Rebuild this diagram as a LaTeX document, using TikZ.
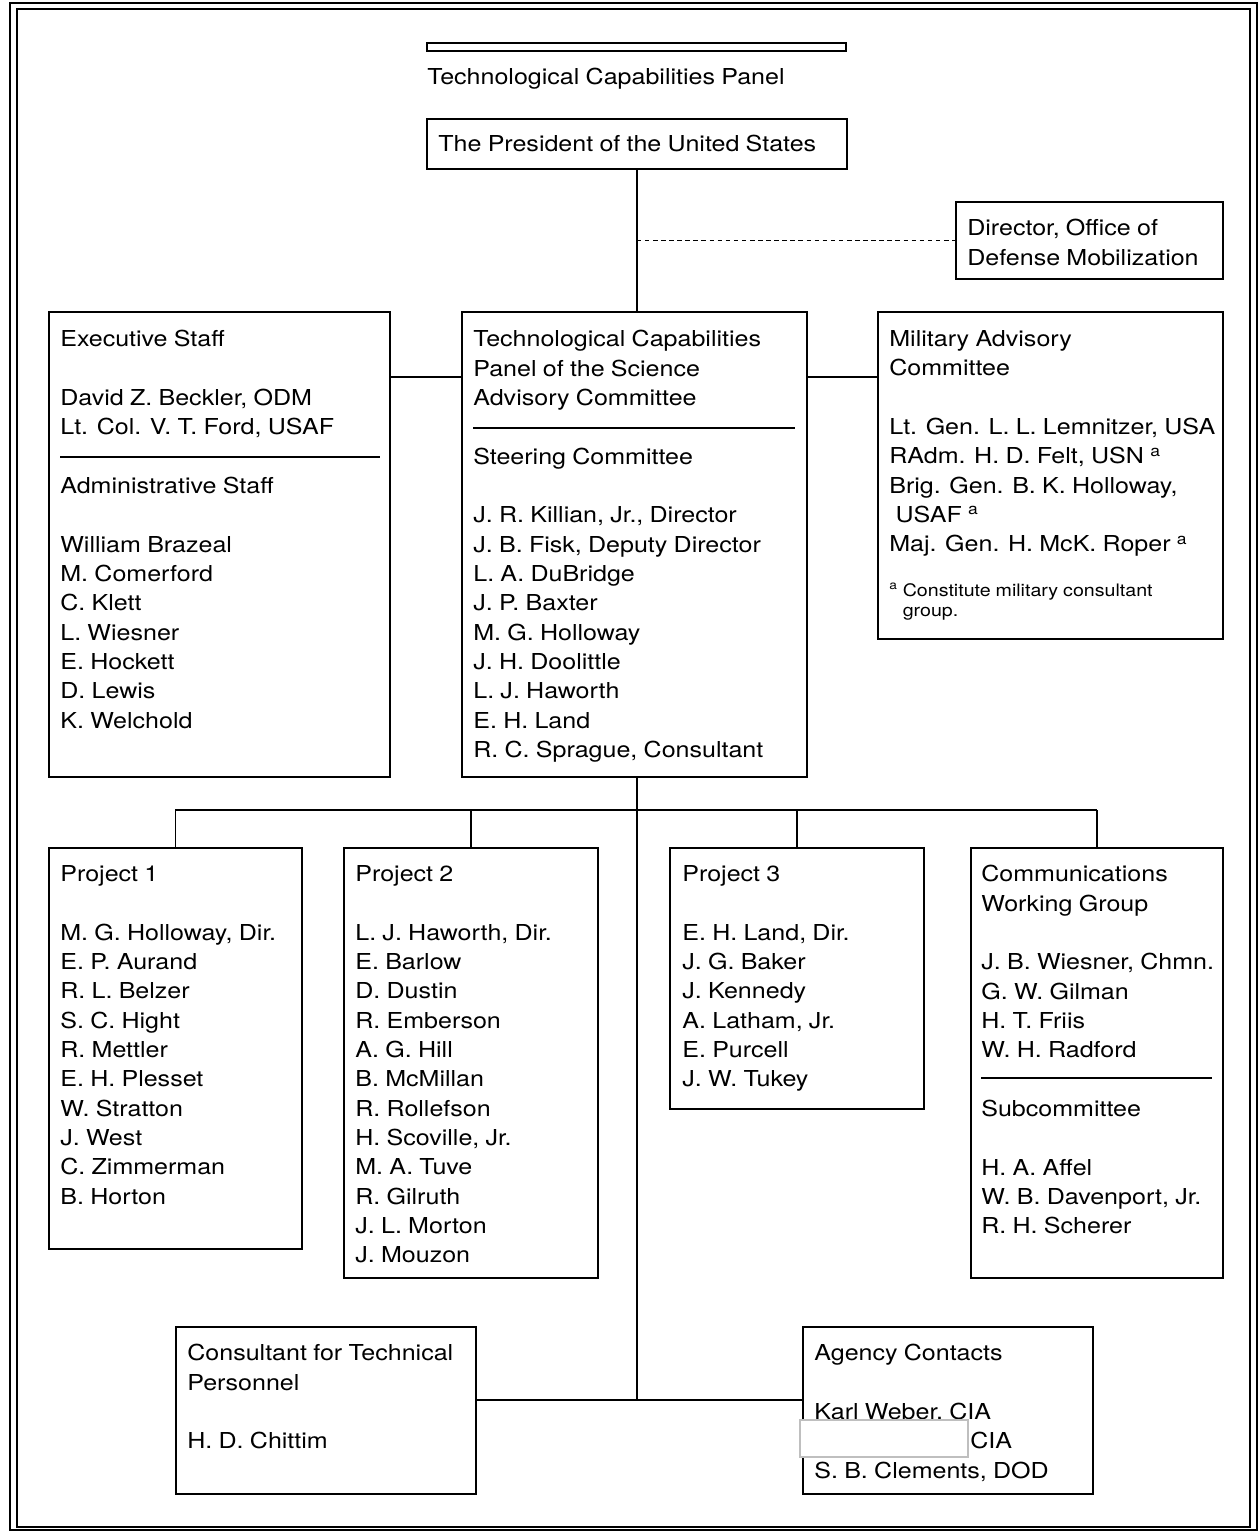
\documentclass[tikz,border=0pt]{standalone}
\usepackage{fontspec}
\setmainfont{TeX Gyre Heros}[FakeStretch=1.14, WordSpace=0.9]
\usepackage{tikz}

\tikzset{
  box/.style={draw, line width=1pt, anchor=north west, inner sep=0pt},
  txt/.style={anchor=north west, inner sep=0pt, align=left, font=\fontsize{12.5}{16.7}\selectfont},
  note/.style={anchor=north west, inner sep=0pt, align=left, font=\fontsize{9.8}{11.8}\selectfont},
  link/.style={line width=0.8pt},
}

\begin{document}
\begin{tikzpicture}[x=0.02cm, y=-0.02cm]
        \useasboundingbox (0,0) rectangle (1260,1532);

        % Frame
        \draw[line width=0.6pt] (10,3) rectangle (1257,1530);
        \draw[line width=0.8pt] (17,9) rectangle (1250,1527);

        % Heading
        \draw[line width=0.6pt] (427,43) rectangle (846,51);
        \node[txt] (title) at (427,68) {Technological Capabilities Panel};

        % President
        \node[box, minimum width=8.4cm, minimum height=1cm] (pres) at (426,118) {};
        \node[txt] (pres-txt) at (438,135) {The President of the United States};

        % ODM director
        \node[box, minimum width=5.34cm, minimum height=1.54cm] (dir) at (955,201) {};
        \node[txt] (dir-txt) at (967,219) {Director, Office of\\ Defense Mobilization};

        % Executive staff
        \node[box, minimum width=6.82cm, minimum height=9.3cm] (exec) at (48,311) {};
        \node[txt] (exec-txt) at (60,330) {Executive Staff\\[16.7pt]
          David Z. Beckler, ODM\\ Lt. Col. V. T. Ford, USAF\\[16.7pt]
          Administrative Staff\\[16.7pt]
          William Brazeal\\ M. Comerford\\ C. Klett\\ L. Wiesner\\ E. Hockett\\ D. Lewis\\ K. Welchold};
        \draw[link] (60,457) -- (380,457);

        % Panel / steering committee
        \node[box, minimum width=6.9cm, minimum height=9.3cm] (main) at (461,311) {};
        \node[txt] (main-txt) at (473,330) {Technological Capabilities\\ Panel of the Science\\ Advisory Committee\\[16.7pt]
          Steering Committee\\[16.7pt]
          J. R. Killian, Jr., Director\\ J. B. Fisk, Deputy Director\\ L. A. DuBridge\\ J. P. Baxter\\
          M. G. Holloway\\ J. H. Doolittle\\ L. J. Haworth\\ E. H. Land\\ R. C. Sprague, Consultant};
        \draw[link] (473,428) -- (795,428);

        % Military advisory committee
        \node[box, minimum width=6.9cm, minimum height=6.54cm] (mil) at (877,311) {};
        \node[txt] (mil-txt) at (889,330) {Military Advisory\\ Committee\\[16.7pt]
          Lt. Gen. L. L. Lemnitzer, USA\\ RAdm. H. D. Felt, USN \textsuperscript{a}\\
          Brig. Gen. B. K. Holloway,\\ \ USAF \textsuperscript{a}\\ Maj. Gen. H. McK. Roper \textsuperscript{a}};
        \node[note] (mil-note) at (889,583) {\textsuperscript{a} Constitute military consultant\\
          \phantom{\textsuperscript{a} }group.};

        % Projects
        \node[box, minimum width=5.06cm, minimum height=8.02cm] (p1) at (48,847) {};
        \node[txt] (p1-txt) at (60,865) {Project 1\\[16.7pt]
          M. G. Holloway, Dir.\\ E. P. Aurand\\ R. L. Belzer\\ S. C. Hight\\ R. Mettler\\
          E. H. Plesset\\ W. Stratton\\ J. West\\ C. Zimmerman\\ B. Horton};

        \node[box, minimum width=5.08cm, minimum height=8.6cm] (p2) at (343,847) {};
        \node[txt] (p2-txt) at (355,865) {Project 2\\[16.7pt]
          L. J. Haworth, Dir.\\ E. Barlow\\ D. Dustin\\ R. Emberson\\ A. G. Hill\\ B. McMillan\\
          R. Rollefson\\ H. Scoville, Jr.\\ M. A. Tuve\\ R. Gilruth\\ J. L. Morton\\ J. Mouzon};

        \node[box, minimum width=5.08cm, minimum height=5.22cm] (p3) at (669,847) {};
        \node[txt] (p3-txt) at (682,865) {Project 3\\[16.7pt]
          E. H. Land, Dir.\\ J. G. Baker\\ J. Kennedy\\ A. Latham, Jr.\\ E. Purcell\\ J. W. Tukey};

        \node[box, minimum width=5.04cm, minimum height=8.6cm] (comms) at (970,847) {};
        \node[txt] (comms-txt) at (981,865) {Communications\\ Working Group\\[16.7pt]
          J. B. Wiesner, Chmn.\\ G. W. Gilman\\ H. T. Friis\\ W. H. Radford\\[16.7pt]
          Subcommittee\\[16.7pt]
          H. A. Affel\\ W. B. Davenport, Jr.\\ R. H. Scherer};
        \draw[link] (981,1078) -- (1212,1078);

        % Consultant and agency contacts
        \node[box, minimum width=6cm, minimum height=3.34cm] (cons) at (175,1326) {};
        \node[txt] (cons-txt) at (187,1344) {Consultant for Technical\\ Personnel\\[16.7pt] H. D. Chittim};

        \node[box, minimum width=5.8cm, minimum height=3.34cm] (agency) at (802,1326) {};
        \node[txt] (agency-txt) at (814,1344) {Agency Contacts\\[16.7pt]
          Karl Weber, CIA\\ \hspace{3.12cm}CIA\\ S. B. Clements, DOD};

        % Connectors
        \coordinate (bus) at (0,810);
        \coordinate (low) at (0,1400);
        \draw[link] (pres.south) -- (pres.south |- main.north);
        \draw[link, dash pattern=on 2.6pt off 2pt] (pres.south |- dir.west) -- (dir.west);
        \draw[link] ([yshift=-1.32cm]exec.north east) -- ([yshift=-1.32cm]main.north west);
        \draw[link] ([yshift=-1.32cm]main.north east) -- ([yshift=-1.32cm]mil.north west);
        \draw[link] (pres.south |- main.south) -- (pres.south |- low);
        \draw[link] (p1.north |- bus) -- (comms.north |- bus);
        \foreach \p in {p1,p2,p3,comms}
          \draw[link] (\p.north |- bus) -- (\p.north);
        \draw[link] (cons.east |- low) -- (agency.west |- low);

        % Blanked name
        \draw[gray!50, line width=0.6pt, fill=white] (800,1420) rectangle (968,1457);
    \end{tikzpicture}
\end{document}
